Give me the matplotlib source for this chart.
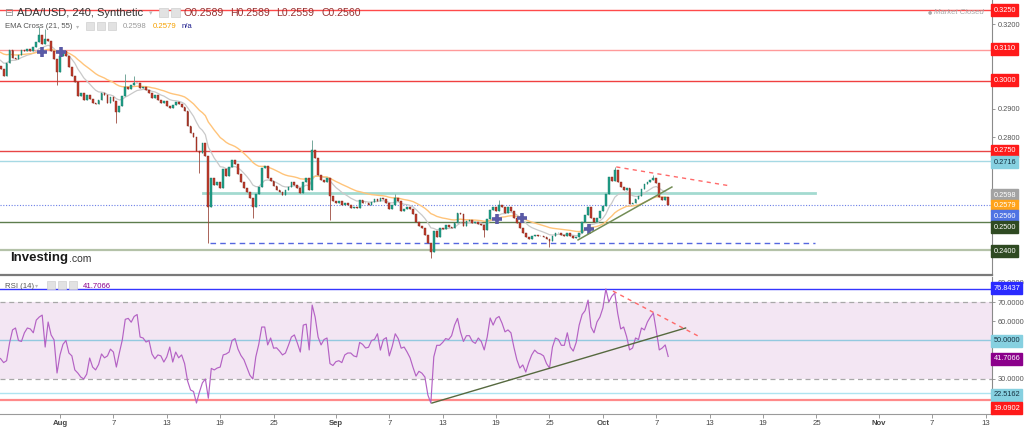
import numpy as np
import pandas as pd
import matplotlib
matplotlib.use('Agg')
import matplotlib.pyplot as plt
import matplotlib.dates as mdates
from matplotlib.patches import Rectangle

plt.rcParams['font.family'] = ['Liberation Sans', 'DejaVu Sans']

# ADA/USD, 8h candles (open = previous close)
start_time = '2019-07-25 00:00'
first_open = 0.3055
closes = [
    0.3052, 0.3040, 0.3018, 0.3062, 0.3108, 0.3080, 0.3075, 0.3092, 0.3110, 0.3105,
    0.3112, 0.3105, 0.3118, 0.3135, 0.3160, 0.3128, 0.3148, 0.3140, 0.3105, 0.3075,
    0.3030, 0.3088, 0.3106, 0.3088, 0.3048, 0.3015, 0.2995, 0.2945, 0.2955, 0.2932,
    0.2948, 0.2936, 0.2921, 0.2916, 0.2932, 0.2955, 0.2948, 0.2920, 0.2943, 0.2928,
    0.2889, 0.2912, 0.2945, 0.2978, 0.2972, 0.2983, 0.2990, 0.2992, 0.2975, 0.2978,
    0.2968, 0.2958, 0.2940, 0.2950, 0.2932, 0.2921, 0.2928, 0.2910, 0.2902, 0.2915,
    0.2925, 0.2918, 0.2908, 0.2893, 0.2840, 0.2815, 0.2802, 0.2752, 0.2745, 0.2778,
    0.2735, 0.2555, 0.2656, 0.2632, 0.2642, 0.2620, 0.2688, 0.2662, 0.2695, 0.2718,
    0.2705, 0.2670, 0.2642, 0.2622, 0.2605, 0.2585, 0.2552, 0.2598, 0.2625, 0.2690,
    0.2698, 0.2656, 0.2645, 0.2628, 0.2615, 0.2605, 0.2596, 0.2612, 0.2625, 0.2640,
    0.2632, 0.2620, 0.2603, 0.2640, 0.2656, 0.2613, 0.2755, 0.2727, 0.2665, 0.2650,
    0.2642, 0.2655, 0.2592, 0.2575, 0.2567, 0.2576, 0.2562, 0.2568, 0.2560, 0.2550,
    0.2555, 0.2550, 0.2578, 0.2568, 0.2566, 0.2562, 0.2570, 0.2580, 0.2575, 0.2584,
    0.2580, 0.2566, 0.2545, 0.2562, 0.2586, 0.2576, 0.2540, 0.2548, 0.2555, 0.2545,
    0.2530, 0.2500, 0.2486, 0.2480, 0.2455, 0.2425, 0.2395, 0.2468, 0.2448, 0.2478,
    0.2476, 0.2490, 0.2482, 0.2478, 0.2497, 0.2532, 0.2528, 0.2485, 0.2505, 0.2508,
    0.2496, 0.2502, 0.2494, 0.2490, 0.2472, 0.2510, 0.2543, 0.2553, 0.2540, 0.2562,
    0.2552, 0.2532, 0.2553, 0.2540, 0.2514, 0.2497, 0.2479, 0.2461, 0.2447, 0.2440,
    0.2450, 0.2455, 0.2452, 0.2450, 0.2446, 0.2440, 0.2432, 0.2450, 0.2460, 0.2463,
    0.2455, 0.2450, 0.2462, 0.2450, 0.2443, 0.2446, 0.2460, 0.2500, 0.2525, 0.2553,
    0.2515, 0.2500, 0.2515, 0.2540, 0.2557, 0.2600, 0.2660, 0.2645, 0.2684, 0.2640,
    0.2624, 0.2613, 0.2622, 0.2563, 0.2566, 0.2580, 0.2592, 0.2618, 0.2636, 0.2642,
    0.2648, 0.2656, 0.2638, 0.2589, 0.2578, 0.2589, 0.2560,
]
# visible wick extremes (candle index -> price)
wick_highs = {14: 0.3189, 16: 0.3182, 43: 0.3022, 46: 0.3015, 106: 0.2790,
              134: 0.2600, 169: 0.2578, 208: 0.2695, 221: 0.2668}
wick_lows = {20: 0.2985, 40: 0.2850, 68: 0.2673, 71: 0.2425, 86: 0.2514,
             112: 0.2507, 146: 0.2373, 164: 0.2447, 186: 0.2412}

rsi = [
    41.5, 40.5, 38.5, 39.5, 48.7, 55.5, 56.5, 50.0, 49.5, 54.0,
    56.5, 56.0, 54.0, 60.6, 62.2, 63.2, 46.6, 59.6, 52.9, 50.3,
    33.1, 42.5, 48.0, 50.0, 43.5, 42.0, 34.7, 33.1, 31.0, 30.0,
    32.5, 40.9, 36.2, 34.7, 37.5, 43.0, 41.0, 42.0, 45.5, 44.0,
    36.2, 43.5, 50.3, 61.0, 61.5, 59.5, 62.5, 63.5, 51.8, 51.3,
    49.2, 50.0, 43.0, 40.5, 42.5, 42.0, 38.8, 41.5, 46.6, 38.8,
    44.0, 41.0, 42.5, 38.0, 29.0, 24.3, 23.5, 17.5, 23.2, 28.0,
    30.0, 20.0, 35.5, 34.7, 35.7, 36.2, 42.5, 43.0, 44.0, 50.0,
    51.0, 45.5, 42.2, 40.0, 36.0, 32.0, 30.0, 41.5, 48.0, 57.0,
    57.0, 47.7, 51.3, 46.0, 46.2, 44.5, 42.5, 43.5, 47.5, 51.8,
    52.9, 48.7, 44.0, 58.0, 58.5, 45.1, 68.4, 62.2, 51.8, 47.7,
    50.5, 51.3, 38.0, 37.0, 39.0, 39.5, 38.5, 42.5, 43.5, 43.5,
    42.0, 41.5, 49.0, 48.0, 46.1, 46.5, 50.0, 50.5, 53.5, 45.0,
    50.5, 51.5, 42.0, 47.0, 53.5, 51.0, 46.0, 46.6, 44.0, 41.0,
    36.0, 31.5, 34.0, 33.0, 31.0, 21.7, 17.5, 41.5, 47.5, 47.5,
    49.0, 51.0, 50.5, 52.5, 58.0, 61.5, 54.4, 49.5, 52.5, 52.5,
    49.5, 48.5, 51.3, 49.5, 45.1, 51.8, 61.7, 58.0, 61.5, 62.5,
    59.0, 54.5, 55.5, 54.0, 46.5, 40.0, 35.7, 37.3, 33.6, 38.5,
    42.5, 45.0, 43.5, 43.0, 42.0, 38.0, 35.7, 46.6, 51.3, 50.5,
    47.5, 47.5, 54.0, 46.6, 44.5, 49.0, 58.0, 63.5, 65.5, 71.0,
    57.0, 54.0, 59.6, 62.2, 66.9, 76.8, 70.0, 73.0, 74.7, 64.0,
    56.0, 57.0, 52.0, 45.1, 46.1, 51.3, 50.5, 56.5, 55.5, 59.6,
    62.2, 64.3, 55.0, 45.1, 46.1, 47.7, 41.7066,
]

last_ohlc = ['O0.2589', 'H0.2589', 'L0.2559', 'C0.2560']
ema_periods = (21, 55)
ema_seeds = (0.3083, 0.3108)
ema_last = (0.2598, 0.2579)
rsi_last = 41.7066

cross_times = ['2019-07-29 23:00', '2019-08-01 03:00', '2019-09-19 02:00',
               '2019-09-21 22:00', '2019-09-29 10:00']
cross_prices = [0.3101, 0.3101, 0.2510, 0.2514, 0.2476]

# user drawn horizontal levels (price, colour, width)
price_levels = [(0.3250, '#ff4a4a', 1.0), (0.3110, '#ff9a9a', 1.0),
                (0.3000, '#f04040', 1.0), (0.2750, '#e84545', 1.0),
                (0.2716, '#a6d9e4', 1.0), (0.2500, '#5d7d4d', 1.0),
                (0.2400, '#b4c2a8', 1.6)]
teal_ray = (['2019-08-17 02:00', '2019-10-24 20:00'], 0.2604)
blue_ray = (['2019-08-17 20:00', '2019-10-24 20:00'], 0.2425)
price_down_line = (['2019-10-02 12:00', '2019-10-15 07:00'], [0.2695, 0.2628])
price_up_line = (['2019-09-28 05:00', '2019-10-08 18:00'], [0.2437, 0.2624])

rsi_levels = [(76.8437, '#3535ff', 1.0), (50.0, '#92c9df', 1.0),
              (22.5162, '#aee4f0', 1.0), (19.0902, '#ff8a8a', 1.6)]
rsi_up_line = (['2019-09-11 19:00', '2019-10-10 07:00'], [17.5, 56.5])
rsi_down_line = (['2019-10-02 03:00', '2019-10-11 22:00'], [75.7, 51.8])

tick_dates = ['2019-08-01', '2019-08-07', '2019-08-13', '2019-08-19', '2019-08-25',
              '2019-09-01', '2019-09-07', '2019-09-13', '2019-09-19', '2019-09-25',
              '2019-10-01', '2019-10-07', '2019-10-13', '2019-10-19', '2019-10-25',
              '2019-11-01', '2019-11-07', '2019-11-13']
tick_labels = ['Aug', '7', '13', '19', '25', 'Sep', '7', '13', '19', '25',
               'Oct', '7', '13', '19', '25', 'Nov', '7', '13']

# only the scale labels that are not hidden behind a tag
price_ticks = [0.28, 0.29, 0.32]
rsi_ticks = [30, 60, 70, 80]

# price tags on the right axis: (text, face, text colour, y pixel)
price_tags = [('0.3250', '#ff1a1a', 'white', 10), ('0.3110', '#ff1a1a', 'white', 49),
              ('0.3000', '#ff1a1a', 'white', 80), ('0.2750', '#ff1a1a', 'white', 151),
              ('0.2716', '#86d0e0', '#163040', 162),
              (f'{ema_last[0]:.4f}', '#a3a3a3', 'white', 195),
              (f'{ema_last[1]:.4f}', '#ffa31a', 'white', 205.5),
              (f'{closes[-1]:.4f}', '#4f73e3', 'white', 216),
              ('0.2500', '#2f4a22', 'white', 227), ('0.2400', '#2f4a22', 'white', 251)]
rsi_tags = [('76.8437', '#2a2aff', 'white', 288), ('50.0000', '#86d0e0', '#163040', 341),
            (f'{rsi_last:.4f}', '#8b008b', 'white', 359),
            ('22.5162', '#86d0e0', '#163040', 395), ('19.0902', '#ff1a1a', 'white', 408)]


def ema(values, period, seed):
    # 4h EMA applied on 8h bars
    a = 1 - (1 - 2 / (period + 1)) ** 2
    out = []
    e = seed
    for v in values:
        e = e + a * (v - e)
        out.append(e)
    return np.array(out)


def dn(s):
    return mdates.date2num(pd.to_datetime(s))


W, H = 1024, 428
fig = plt.figure(figsize=(W / 100, H / 100), dpi=100)
fig.patch.set_facecolor('white')
ax = fig.add_axes([0, 1 - 275 / H, 992 / W, 275 / H])
axr = fig.add_axes([0, 1 - 414 / H, 992 / W, 137 / H], sharex=ax)

t = dn(pd.date_range(start_time, periods=len(closes), freq='8h'))
c = np.array(closes)
o = np.array([first_open] + closes[:-1])
hi = np.maximum(o, c)
lo = np.minimum(o, c)
for k, v in wick_highs.items():
    hi[k] = max(hi[k], v)
for k, v in wick_lows.items():
    lo[k] = min(lo[k], v)
up = c >= o

# levels
for p, col, lw in price_levels:
    ax.axhline(p, color=col, lw=lw, zorder=1)
ax.axhline(closes[-1], color='#6b7fe6', lw=0.8, ls=(0, (1, 1.5)), zorder=1)
ax.plot(dn(teal_ray[0]), [teal_ray[1]] * 2, color='#a3dad0', lw=2, zorder=1)
ax.plot(dn(blue_ray[0]), [blue_ray[1]] * 2, color='#5567e0', lw=1, ls=(0, (4, 3)), zorder=1)

# EMA cross
ax.plot(t, ema(closes, ema_periods[0], ema_seeds[0]), color='#c9c9c9', lw=0.9, zorder=2)
ax.plot(t, ema(closes, ema_periods[1], ema_seeds[1]), color='#ffc47a', lw=1.0, zorder=2)

# candles
ax.vlines(t, lo, hi, colors=np.where(up, '#5f9a8c', '#9c4a3e'), lw=0.6, zorder=3)
ax.bar(t, np.maximum(np.abs(c - o), 0.00025), bottom=np.minimum(o, c), width=0.2,
       color=np.where(up, '#1f9f88', '#c13b2b'), edgecolor=np.where(up, '#167a68', '#7e2a1e'),
       lw=0.3, zorder=4)

ax.plot(dn(cross_times), cross_prices, ls='none', marker='+', ms=7, mew=2.6,
        color='#5a5aa6', zorder=5)
ax.plot(dn(price_down_line[0]), price_down_line[1], color='#ff6a6a', lw=1, ls=(0, (3, 3)), zorder=5)
ax.plot(dn(price_up_line[0]), price_up_line[1], color='#738d56', lw=1.1, zorder=5)

# RSI panel
axr.axhspan(30, 70, color='#f3e6f3', lw=0, zorder=0)
for lvl in (30, 70):
    axr.axhline(lvl, color='#a8a8a8', lw=0.9, ls=(0, (4, 3)), zorder=1)
for p, col, lw in rsi_levels:
    axr.axhline(p, color=col, lw=lw, zorder=1)
axr.plot(t, rsi, color='#b462c4', lw=0.85, zorder=3)
axr.plot(dn(rsi_up_line[0]), rsi_up_line[1], color='#56693f', lw=1, zorder=4)
axr.plot(dn(rsi_down_line[0]), rsi_down_line[1], color='#ff6a6a', lw=1, ls=(0, (3, 3)), zorder=4)

# axes cosmetics
x_left = dn('2019-08-01') - 60 / 8.9
ax.set_xlim(x_left, x_left + 992 / 8.9)
ax.set_ylim(0.2313, 0.3285)
axr.set_ylim(11.8, 83.0)

for a in (ax, axr):
    a.set_facecolor('white')
    a.spines['top'].set_visible(False)
    a.spines['left'].set_visible(False)
    a.spines['right'].set_color('#8a8a8a')
    a.yaxis.tick_right()
    a.tick_params(axis='y', length=2.5, width=0.6, colors='#8a8a8a', labelcolor='#555555',
                  labelsize=5.3, pad=1.5)
ax.spines['bottom'].set_color('#7a7a7a')
ax.spines['bottom'].set_linewidth(1.6)
axr.spines['bottom'].set_color('#9a9a9a')
ax.tick_params(axis='x', bottom=False, labelbottom=False)

ax.set_yticks(price_ticks)
ax.set_yticklabels([f'{v:.4f}' for v in price_ticks])
axr.set_yticks(rsi_ticks)
axr.set_yticklabels([f'{v:.4f}' for v in rsi_ticks])

axr.set_xticks(dn(tick_dates))
axr.set_xticklabels(tick_labels)
axr.tick_params(axis='x', length=3, width=0.6, colors='#8a8a8a', labelcolor='#444444',
                labelsize=5.6, pad=1.5)
for lbl in axr.get_xticklabels():
    if lbl.get_text().isalpha():
        lbl.set_fontweight('bold')


def tag(a, text, face, fg, y_frac):
    a.text(1.0015, y_frac, text, transform=a.transAxes, fontsize=5.3, color=fg,
           va='center', ha='left', clip_on=False, zorder=10,
           bbox=dict(boxstyle='square,pad=0.3', fc=face, ec=face))


for text, face, fg, ypx in price_tags:
    tag(ax, text, face, fg, 1 - ypx / 275)
for text, face, fg, ypx in rsi_tags:
    tag(axr, text, face, fg, (414 - ypx) / 137)


# header texts
def ft(x, y, s, **kw):
    fig.text(x / W, 1 - y / H, s, va='center', ha='left', **kw)


def icon(x, y, w=9, h=9):
    fig.add_artist(Rectangle((x / W, 1 - (y + h) / H), w / W, h / H, transform=fig.transFigure,
                             fc='#e2e2e2', ec='#d0d0d0', lw=0.5))


ft(4, 13, '\u229f', fontsize=7.5, color='#8a8a8a', family='DejaVu Sans')
ft(17, 13, 'ADA/USD, 240, Synthetic', fontsize=8, color='#333333')
ft(149, 13, '\u25be', fontsize=5, color='#bbbbbb', family='DejaVu Sans')
icon(159, 8)
icon(171, 8)
for s, xp in zip(last_ohlc, [184, 230, 276, 321]):
    ft(xp, 13, s, fontsize=7.6, color='#993333')

ft(5, 27, 'EMA Cross (%d, %d)' % ema_periods, fontsize=5.6, color='#555555')
ft(76, 27, '\u25be', fontsize=4.5, color='#bbbbbb', family='DejaVu Sans')
for xp in (86, 97, 108):
    icon(xp, 22, 8, 8)
ft(123, 27, f'{ema_last[0]:.4f}', fontsize=5.6, color='#999999')
ft(153, 27, f'{ema_last[1]:.4f}', fontsize=5.6, color='#f5a000')
ft(182, 27, 'n/a', fontsize=5.6, color='#1a1a8c')

ft(928, 12, '\u25cf', fontsize=3.5, color='#aaaaaa', family='DejaVu Sans')
ft(934, 12, 'Market Closed', fontsize=5.6, color='#a8a8a8', style='italic')

ft(10, 258, 'Investing', fontsize=9.5, color='#1a1a1a', weight='bold')
ft(69, 259, '.com', fontsize=7.5, color='#333333')

ft(5, 286, 'RSI (14)', fontsize=5.6, color='#555555')
ft(35, 286, '\u25be', fontsize=4.5, color='#bbbbbb', family='DejaVu Sans')
for xp in (47, 58, 69):
    icon(xp, 281, 8, 8)
ft(83, 286, f'{rsi_last:.4f}', fontsize=5.6, color='#8b008b')

fig.savefig('out.png', dpi=100, facecolor='white')
